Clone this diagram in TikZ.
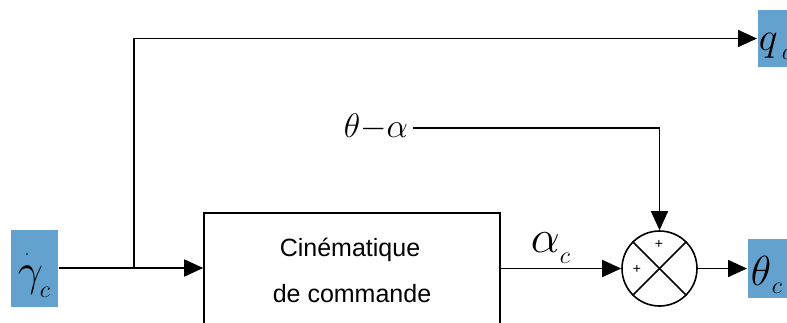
\RequirePackage{fix-cm}
\documentclass[tikz,border=0pt]{standalone}
\usepackage{fontspec}
\setmainfont{Liberation Sans}
\usetikzlibrary{arrows.meta}
\definecolor{boxblue}{RGB}{99,162,207}
\newcommand\msym[2]{{\fontsize{#1}{#1}\selectfont$#2$}}
\begin{document}
\begin{tikzpicture}[x=1pt,y=-1pt,
  line width=1.6pt,
  arr/.style={-{Triangle[length=19pt,width=17pt]}},
  inbox/.style={fill=boxblue,draw=none,inner sep=0pt},
  lab/.style={anchor=base west,inner sep=0pt},
  plus/.style={font=\fontsize{14}{14}\selectfont,inner sep=0pt}]
\useasboundingbox (0,0) rectangle (787,322);
\clip (0,0) rectangle (787,322);
% boxes
\node[inbox,minimum width=47pt,minimum height=77pt] (gin) at (34.5,268) {};
\node[inbox,minimum width=40pt,minimum height=59pt,anchor=west] (thbox) at (747,268.5) {};
\node[inbox,minimum width=40pt,minimum height=57pt,anchor=west] (qbox) at (757,38.5) {};
\node[draw,rectangle,minimum width=296pt,minimum height=130pt,inner sep=0pt] (block) at (352,278) {};
\node[font=\fontsize{25}{25}\selectfont] (t1) at (350,250) {Cinématique};
\node[font=\fontsize{25}{25}\selectfont] (t2) at (352,294) {de commande};
% labels
\node[lab] (g1) at (17,285) {\msym{45}{\gamma}};
\node[lab] (g2) at (39,297) {\msym{24}{c}};
\fill (27,254) circle (0.9pt);
\node[lab] (th1) at (750,285) {\msym{42}{\theta}};
\node[lab] (th2) at (771,293) {\msym{24}{c}};
\node[lab] (q1) at (758,50) {\msym{40}{q}};
\node[lab] (q2) at (781,59) {\msym{24}{d}};
\node[lab] (a1) at (530,252) {\msym{46}{\alpha}};
\node[lab] (a2) at (559,263) {\msym{24}{c}};
\node[lab] (ta) at (343,137) {\msym{34}{\theta{-}\alpha}};
\coordinate (tae) at ([xshift=4pt,yshift=9pt]ta.base east);
% summation
\node[draw,circle,minimum size=75pt,inner sep=0pt] (sum) at (659.5,268.5) {};
\draw (sum.north west) -- (sum.south east);
\draw (sum.north east) -- (sum.south west);
\node[plus] (p1) at (659,244) {+};
\node[plus] (p2) at (637,269) {+};
% connectors
\coordinate (br) at (134,268);
\coordinate (bl) at (102,268);
\draw[arr] (gin.east) -- (gin.east -| block.west);
\draw[line width=2.6pt] (bl) -- (br);
\draw[arr] (br) |- (qbox.west);
\draw[arr] (sum.west -| block.east) -- (sum.west);
\draw[arr] (sum.east) -- (thbox.west);
\draw[arr] (tae) -| (sum.north);
\end{tikzpicture}
\end{document}
